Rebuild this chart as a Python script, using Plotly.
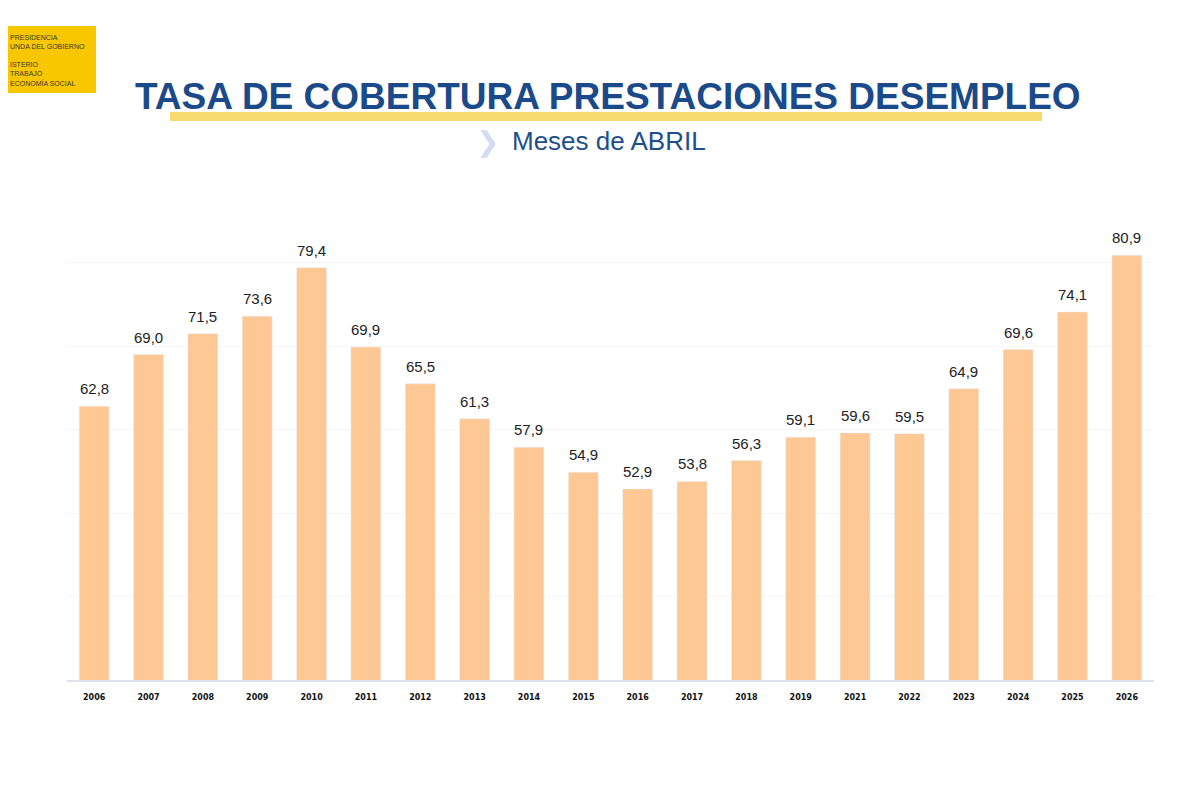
import plotly.graph_objects as go

# data (abril de cada año)
years = ['2006', '2007', '2008', '2009', '2010', '2011', '2012', '2013', '2014', '2015',
         '2016', '2017', '2018', '2019', '2021', '2022', '2023', '2024', '2025', '2026']
tasa = [62.8, 69.0, 71.5, 73.6, 79.4, 69.9, 65.5, 61.3, 57.9, 54.9,
        52.9, 53.8, 56.3, 59.1, 59.6, 59.5, 64.9, 69.6, 74.1, 80.9]

logo_lines = ['PRESIDENCIA', 'UNDA DEL GOBIERNO', '', 'ISTERIO', 'TRABAJO', 'ECONOMÍA SOCIAL']

fig = go.Figure()
fig.add_trace(go.Bar(
    x=years, y=tasa,
    marker_color='#FDC894',
    hoverinfo='x+y',
))

# value labels above each bar (x given as category index)
for i, v in enumerate(tasa):
    fig.add_annotation(x=i, y=v, text=f'{v:.1f}'.replace('.', ','),
                       showarrow=False, yanchor='bottom', yshift=7,
                       font=dict(family='Liberation Sans, Arial', size=15, color='#222222'))

fig.update_layout(
    width=1192, height=792,
    margin=dict(l=59, r=46, t=213, b=120),
    paper_bgcolor='white', plot_bgcolor='white',
    bargap=0.45,
    showlegend=False,
    font=dict(family='Liberation Sans, Arial'),
)
fig.update_xaxes(
    type='category', range=[-0.5, len(years) - 0.5],
    showline=True, linecolor='#dde3ea', linewidth=2,
    ticks='', tickfont=dict(size=8, color='#111111', family='DejaVu Sans', weight='bold'),
    ticklabelstandoff=8,
)
fig.update_yaxes(
    range=[30, 85], dtick=10, tick0=30,
    showticklabels=False, showgrid=True, gridcolor='#f6f6f6',
    zeroline=False, showline=False,
)

# title + underline
fig.add_shape(type='rect', xref='paper', yref='paper', layer='below',
              x0=(170 - 67) / 1087, x1=(1042 - 67) / 1087,
              y0=(680 - 121) / 459, y1=(680 - 112) / 459,
              fillcolor='#F7DB6E', line_width=0)
fig.add_annotation(text='<b>TASA DE COBERTURA PRESTACIONES DESEMPLEO</b>',
                   xref='paper', yref='paper', x=(608 - 67) / 1087, y=(680 - 97) / 459,
                   showarrow=False, xanchor='center', yanchor='middle',
                   font=dict(size=37, color='#1B4A8A', family='Liberation Sans, Arial'))
fig.add_annotation(text='<b>❯</b>', xref='paper', yref='paper',
                   x=(487 - 67) / 1087, y=(680 - 141) / 459,
                   showarrow=False, xanchor='center', yanchor='middle',
                   font=dict(size=28, color='#D3DDF0', family='DejaVu Sans'))
fig.add_annotation(text='Meses de ABRIL', xref='paper', yref='paper',
                   x=(510 - 67) / 1087, y=(680 - 141) / 459,
                   showarrow=False, xanchor='left', yanchor='middle',
                   font=dict(size=26, color='#1F4E8C', family='Liberation Sans, Arial'))

# logo block
fig.add_shape(type='rect', xref='paper', yref='paper', layer='below',
              x0=-67 / 1087, x1=(96 - 67) / 1087,
              y0=(680 - 93) / 459, y1=(680 - 26) / 459,
              fillcolor='#F8C700', line_width=0)
fig.add_annotation(text='<br>'.join(logo_lines), xref='paper', yref='paper',
                   x=-59 / 1087, y=(680 - 32) / 459, align='left',
                   showarrow=False, xanchor='left', yanchor='top',
                   font=dict(size=7, color='#3a3a3a', family='Liberation Sans, Arial'))

fig.write_html('out.html')
